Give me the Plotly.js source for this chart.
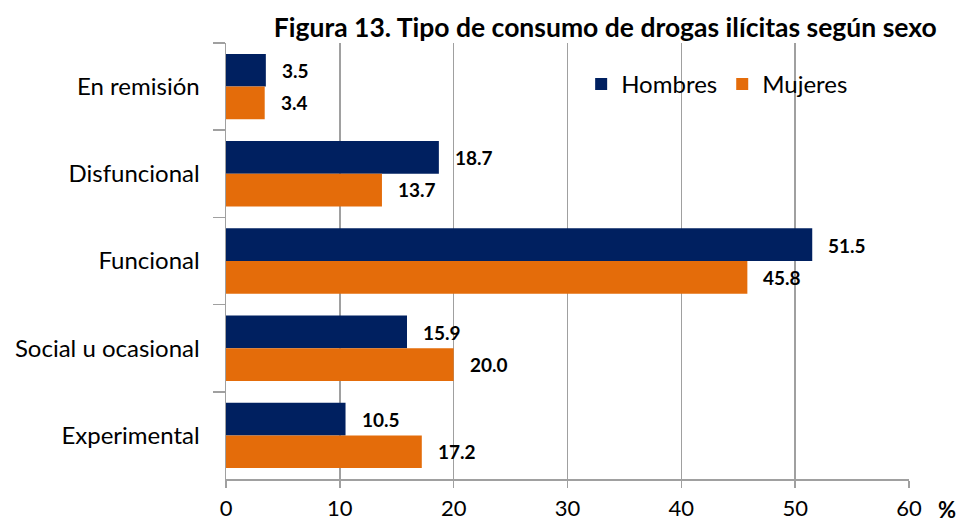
<!DOCTYPE html>
<html>
<head>
<meta charset="utf-8">
<script src="https://cdn.plot.ly/plotly-3.0.1.min.js"></script>
<style>
  html, body { margin: 0; padding: 0; background: #fff; }
  #chart { width: 970px; height: 523px; }
</style>
</head>
<body>
<div id="chart"></div>
<script>
// categories top to bottom
var categorias = ["En remisión", "Disfuncional", "Funcional", "Social u ocasional", "Experimental"];
var hombres = [3.5, 18.7, 51.5, 15.9, 10.5];
var mujeres = [3.4, 13.7, 45.8, 20.0, 17.2];

var fuente = "Lato, 'Open Sans', sans-serif";

var traceH = {
  name: "Hombres",
  type: "bar",
  orientation: "h",
  y: categorias,
  x: hombres,
  marker: { color: "#002060" },
  hoverinfo: "x+name"
};
var traceM = {
  name: "Mujeres",
  type: "bar",
  orientation: "h",
  y: categorias,
  x: mujeres,
  marker: { color: "#E46C0A" },
  hoverinfo: "x+name"
};

// value labels next to bar ends
var notas = [];
categorias.forEach(function (c, i) {
  notas.push({ x: hombres[i], y: c, text: hombres[i].toFixed(1), xanchor: "left",
    yshift: 16, xshift: 14, showarrow: false, font: { size: 19, color: "#000", family: fuente, weight: "bold" } });
  notas.push({ x: mujeres[i], y: c, text: mujeres[i].toFixed(1), xanchor: "left",
    yshift: -16, xshift: 14, showarrow: false, font: { size: 19, color: "#000", family: fuente, weight: "bold" } });
});
notas.push({ xref: "paper", yref: "paper", x: 1.04, y: -0.07, text: "<b>%</b>", showarrow: false,
  xanchor: "left", yanchor: "middle", font: { size: 22, color: "#000", family: fuente } });

var layout = {
  width: 970,
  height: 523,
  margin: { l: 225.5, r: 60.7, t: 43, b: 44 },
  paper_bgcolor: "#fff",
  plot_bgcolor: "#fff",
  font: { family: fuente, size: 24, color: "#000" },
  title: {
    text: "<b>Figura 13. Tipo de consumo de drogas ilícitas según sexo</b>",
    x: 0.624, xanchor: "center", y: 0.947, yanchor: "middle",
    font: { size: 26.5, color: "#000", family: fuente }
  },
  barmode: "group",
  bargap: 0.25,
  bargroupgap: 0,
  xaxis: {
    range: [0, 60],
    dtick: 10,
    showgrid: true,
    gridcolor: "#A0A0A0",
    gridwidth: 1.5,
    zeroline: false,
    showline: true,
    linecolor: "#A0A0A0",
    linewidth: 1.5,
    ticks: "outside",
    ticklen: 7,
    tickcolor: "#A0A0A0",
    tickwidth: 1.5,
    tickfont: { size: 22 },
    ticklabelstandoff: 2,
    fixedrange: true
  },
  yaxis: {
    autorange: "reversed",
    showline: true,
    linecolor: "#A0A0A0",
    linewidth: 1.5,
    ticks: "outside",
    tickson: "boundaries",
    ticklen: 12,
    tickcolor: "#A0A0A0",
    tickwidth: 1.5,
    showgrid: false,
    tickfont: { size: 24 },
    ticklabelstandoff: 20,
    fixedrange: true
  },
  showlegend: true,
  legend: {
    orientation: "h",
    x: 0.52, xanchor: "left",
    y: 0.905, yanchor: "middle",
    bgcolor: "rgba(0,0,0,0)",
    font: { size: 24 },
    itemwidth: 20
  },
  annotations: notas
};

Plotly.newPlot("chart", [traceH, traceM], layout, { displayModeBar: false, staticPlot: true });
</script>
</body>
</html>
